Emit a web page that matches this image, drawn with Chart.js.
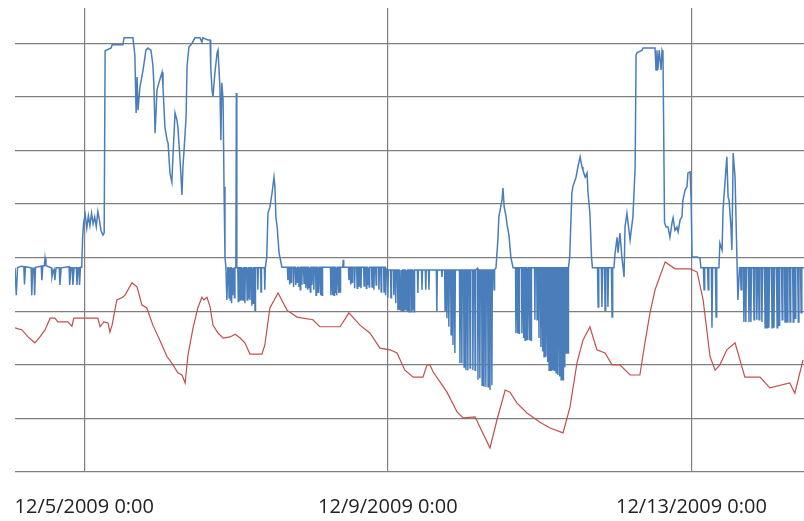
<!DOCTYPE html>
<html>
<head>
<meta charset="utf-8">
<script src="https://cdn.jsdelivr.net/npm/chart.js@4.4.1/dist/chart.umd.min.js"></script>
<style>
  html, body { margin: 0; padding: 0; background: #fff; }
  #wrap { width: 804px; height: 521px; }
</style>
</head>
<body>
<div id="wrap"><canvas id="chart"></canvas></div>
<script>
// hours after 12/5/2009 0:00, value (gridline step = 10 units)
const tickHours = [0, 96, 192];
const tickLabels = ['12/5/2009 0:00', '12/9/2009 0:00', '12/13/2009 0:00'];
const gridValues = [0, 10, 20, 30, 40, 50, 60, 70, 80];

const blueReadings = [
  [-21.9,38.1],[-21.5,33.0],[-21.1,38.1],[-20.0,38.4],[-19.1,38.3],[-18.9,35.0],[-18.6,38.3],[-16.8,38.1],[-16.6,33.0],[-16.3,38.0],
  [-15.9,38.0],[-15.7,33.0],[-15.4,38.2],[-13.6,38.4],[-13.4,35.8],[-13.1,38.5],[-12.6,38.5],[-12.4,39.9],[-12.1,38.5],[-10.4,38.1],
  [-10.2,36.4],[-9.8,37.5],[-9.5,37.8],[-9.3,35.8],[-8.9,38.1],[-7.9,38.1],[-7.7,34.9],[-7.3,38.1],[-4.8,38.3],[-4.6,34.9],
  [-4.2,38.1],[-3.8,38.1],[-3.6,34.9],[-3.2,38.1],[-2.5,38.1],[-2.3,34.9],[-2.0,38.1],[-1.7,38.1],[-1.5,34.9],[-1.2,38.2],[-0.8,38.2],
  [-0.5,43.8],[-0.2,46.5],[0.3,48.0],[0.8,45.5],[1.3,47.8],[1.8,46.0],[2.3,48.3],[2.8,46.3],[3.3,47.6],[3.8,45.8],
  [4.3,48.6],[4.8,47.0],[5.3,45.0],[5.9,44.2],[6.3,44.6],[6.6,78.6],[8.5,79.1],[8.8,79.7],[12.2,79.7],[12.6,81.0],[15.4,81.0],
  [16.0,77.8],[16.4,67.0],[16.7,73.7],[17.0,67.5],[17.6,71.8],[18.6,75.0],[19.5,78.7],[20.1,79.1],[21.1,78.7],[21.7,75.9],
  [22.0,72.6],[22.4,63.2],[23.0,71.3],[23.6,72.6],[24.6,74.6],[24.9,71.8],[25.5,64.4],[26.2,61.9],[26.5,61.4],[27.1,55.8],
  [27.7,54.1],[28.1,59.5],[28.7,67.0],[29.3,65.7],[29.6,64.4],[30.3,58.2],[30.9,51.7],[31.2,56.9],[31.5,59.5],[32.2,66.2],
  [32.5,75.6],[33.1,79.3],[34.1,80.0],[35.0,81.0],[36.6,81.0],[37.2,80.2],[37.5,81.0],[39.1,80.6],[39.8,80.6],[40.0,75.6],
  [40.4,71.3],[40.7,70.0],[41.3,74.4],[42.0,78.2],[42.3,78.7],[42.9,71.8],[43.2,61.9],[43.5,72.6],[43.9,69.4],[44.2,53.2],
  [44.5,40.1],[44.8,38.1],[45.1,32.1],[45.4,38.1],
  [45.65,38.1],[45.8,32.5],[45.95,38.1],[46.05,38.1],[46.2,32.1],[46.35,38.1],[46.45,38.1],[46.6,31.5],[46.75,38.1],
  [46.85,38.1],[47.0,33.0],[47.15,38.1],[47.35,38.1],[47.5,32.5],[47.65,38.1],[47.95,38.1],[48.1,70.7],[48.25,38.1],
  [48.55,38.1],[48.7,31.8],[48.85,38.1],[49.15,38.1],[49.3,32.1],[49.45,38.1],[49.65,38.1],[49.8,32.1],[49.95,38.1],
  [50.05,38.1],[50.2,32.1],[50.35,38.1],[50.65,38.1],[50.8,31.5],[50.95,38.1],[51.35,38.1],[51.5,32.1],[51.65,38.1],
  [51.75,38.1],[51.9,32.5],[52.05,38.1],[52.25,38.1],[52.4,32.1],[52.55,38.1],[52.85,38.1],[53.0,31.0],[53.15,38.1],
  [53.25,38.1],[53.4,31.5],[53.55,38.1],[53.85,38.1],[54.0,30.2],[54.15,38.1],[54.75,38.1],[54.9,34.0],[55.05,38.1],
  [55.75,38.1],[55.9,33.6],[56.05,38.1],[56.95,38.1],[57.1,34.0],[57.25,38.1],
  [57.7,40.1],[58.1,48.3],[58.7,49.4],[59.4,52.1],[60.0,55.0],[60.3,53.2],[60.6,47.6],[61.0,45.7],[61.6,40.9],[62.5,38.2],
  [64.25,38.2],[64.4,35.8],[64.55,38.2],[64.75,38.2],[64.9,35.0],[65.05,38.2],[65.25,38.2],[65.4,35.4],[65.55,38.2],
  [66.05,38.2],[66.2,34.5],[66.35,38.2],[66.75,38.2],[66.9,34.9],[67.05,38.2],[67.25,38.2],[67.4,35.4],[67.55,38.2],
  [67.75,38.2],[67.9,34.5],[68.05,38.2],[68.15,38.2],[68.3,34.0],[68.45,38.2],[68.65,38.2],[68.8,34.9],[68.95,38.2],
  [69.35,38.2],[69.5,35.2],[69.65,38.2],[69.95,38.2],[70.1,34.3],[70.25,38.2],[70.45,38.2],[70.6,34.0],[70.75,38.2],
  [70.85,38.2],[71.0,34.3],[71.15,38.2],[71.35,38.2],[71.5,33.6],[71.65,38.2],[71.85,38.2],[72.0,34.9],[72.15,38.2],
  [72.45,38.2],[72.6,34.0],[72.75,38.2],[73.15,38.2],[73.3,33.0],[73.45,38.2],[73.65,38.2],[73.8,33.4],[73.95,38.2],
  [74.05,38.2],[74.2,33.4],[74.35,38.2],[74.55,38.2],[74.7,33.0],[74.85,38.2],[75.05,38.2],[75.2,33.0],[75.35,38.2],
  [77.85,38.2],[78.0,33.0],[78.15,38.2],[78.35,38.2],[78.5,33.0],[78.65,38.2],[78.85,38.2],[79.0,33.0],[79.15,38.2],
  [79.35,38.2],[79.5,33.4],[79.65,38.2],[79.75,38.2],[79.9,33.0],[80.05,38.2],[80.25,38.2],[80.4,33.4],[80.55,38.2],
  [80.75,38.2],[80.9,33.6],[81.05,38.2],[81.75,38.2],[81.9,39.6],[82.05,38.2],[83.55,38.2],[83.7,35.8],[83.85,38.2],
  [84.05,38.2],[84.2,35.0],[84.35,38.2],[84.55,38.2],[84.7,35.4],[84.85,38.2],[85.35,38.2],[85.5,34.3],[85.65,38.2],
  [86.15,38.2],[86.3,34.3],[86.45,38.2],[86.75,38.2],[86.9,34.7],[87.05,38.2],[87.35,38.2],[87.5,34.3],[87.65,38.2],
  [88.35,38.2],[88.5,34.7],[88.65,38.2],[89.05,38.2],[89.2,34.3],[89.35,38.2],[89.45,38.2],[89.6,34.9],[89.75,38.2],
  [89.95,38.2],[90.1,34.5],[90.25,38.2],[90.85,38.2],[91.0,34.5],[91.15,38.2],[91.45,38.2],[91.6,34.0],[91.75,38.2],
  [92.15,38.2],[92.3,34.9],[92.45,38.2],[93.05,38.2],[93.2,34.0],[93.35,38.2],[93.75,38.2],[93.9,33.6],[94.05,38.2],
  [94.65,38.2],[94.8,33.6],[94.95,38.2],[95.15,38.2],[95.3,33.0],[95.45,37.9],[95.85,37.7],[96.0,32.5],[96.15,37.7],
  [96.85,37.7],[97.0,32.5],[97.15,37.7],[97.75,37.7],[97.9,33.0],[98.05,37.7],[98.35,37.7],[98.5,31.5],[98.65,37.7],
  [99.05,37.7],[99.2,30.2],[99.35,37.7],[99.55,37.7],[99.7,30.2],[99.85,37.7],[100.05,37.7],[100.2,30.2],[100.35,37.7],
  [100.45,37.7],[100.6,30.0],[100.75,37.7],[100.95,37.7],[101.1,29.9],[101.25,37.7],[101.45,37.7],[101.6,30.2],[101.75,37.7],
  [101.95,37.7],[102.1,30.2],[102.25,37.7],[102.55,37.7],[102.7,29.9],[102.85,37.7],[103.25,37.7],[103.4,29.9],[103.55,37.7],
  [103.75,37.7],[103.9,30.2],[104.05,37.7],[104.15,37.7],[104.3,29.9],[104.45,37.7],[105.35,37.7],[105.5,33.4],[105.65,37.7],
  [106.65,37.7],[106.8,34.0],[106.95,37.7],
  [107.85,37.7],[108.0,34.0],[108.15,37.7],[108.85,37.7],[109.0,34.0],[109.15,37.7],[111.35,37.7],[111.5,29.9],[111.65,37.7],
  [112.95,37.7],[113.1,36.4],[113.25,37.7],[113.95,37.7],[114.1,30.2],[114.25,37.7],[114.55,37.7],[114.7,28.7],[114.85,37.7],
  [115.15,37.7],[115.3,27.1],[115.45,37.7],[115.85,37.7],[116.0,25.6],[116.15,37.7],[116.45,37.7],[116.6,23.7],[116.75,37.7],
  [117.05,37.7],[117.2,22.2],[117.35,37.7],[118.65,37.7],[118.8,20.3],[118.95,37.7],[119.25,37.7],[119.4,20.3],[119.55,37.7],
  [119.95,37.7],[120.1,19.6],[120.25,37.7],[120.55,37.7],[120.7,19.0],[120.85,37.7],[121.15,37.7],[121.3,19.0],[121.45,37.7],
  [121.85,37.7],[122.0,19.4],[122.15,37.7],[122.75,37.7],[122.9,19.0],[123.05,37.7],[123.45,37.7],[123.6,19.0],[123.75,37.7],
  [124.35,38.0],[124.5,17.2],[124.65,37.7],[124.95,37.7],[125.1,17.5],[125.25,37.7],[125.65,37.7],[125.8,16.2],[125.95,37.7],
  [126.25,37.7],[126.4,15.9],[126.55,37.7],[126.85,37.7],[127.0,15.9],[127.15,37.7],[127.55,37.7],[127.7,15.9],[127.85,37.7],
  [128.15,37.7],[128.3,15.3],[128.45,37.7],[128.75,37.7],[128.9,16.2],[129.05,37.7],[129.45,37.7],[129.6,34.0],[129.75,37.7],
  [130.2,38.1],[130.8,43.3],[131.1,47.6],[132.1,50.7],[132.4,53.0],[132.8,49.4],[133.4,47.6],[133.7,46.1],[134.3,44.2],
  [134.9,40.1],[135.6,38.1],
  [136.38,38.1],[136.5,25.9],[136.62,38.1],[136.88,38.1],[137.0,25.9],[137.12,38.1],[137.38,38.1],[137.5,25.9],[137.62,38.1],
  [138.28,38.1],[138.4,25.9],[138.52,38.1],[138.78,38.1],[138.9,25.0],[139.02,38.1],[139.28,38.1],[139.4,24.6],[139.52,38.1],
  [139.78,38.1],[139.9,24.6],[140.02,38.1],[140.18,38.1],[140.3,24.6],[140.42,38.1],[140.68,38.1],[140.8,24.6],[140.92,38.1],
  [141.18,38.1],[141.3,24.6],[141.42,38.1],[142.38,38.1],[142.5,28.4],[142.62,38.1],[143.08,38.1],[143.2,28.4],[143.32,38.1],
  [143.68,38.1],[143.8,25.0],[143.92,38.1],[144.28,38.1],[144.4,23.3],[144.52,38.1],[144.78,38.1],[144.9,22.5],[145.02,38.1],
  [145.28,38.1],[145.4,21.5],[145.52,38.1],[145.88,38.1],[146.0,21.5],[146.12,38.1],[146.38,38.1],[146.5,20.5],[146.62,38.1],
  [146.88,38.1],[147.0,19.0],[147.12,38.1],[147.48,38.1],[147.6,19.0],[147.72,38.1],[147.98,38.1],[148.1,19.0],[148.22,38.1],
  [148.48,38.1],[148.6,19.0],[148.72,38.1],[149.08,38.1],[149.2,18.5],[149.32,38.1],[149.68,38.1],[149.8,18.1],[149.92,38.1],
  [150.18,38.1],[150.3,17.8],[150.42,38.1],[150.68,38.1],[150.8,17.2],[150.92,38.1],[151.28,38.1],[151.4,17.2],[151.52,38.1],
  [151.78,38.1],[151.9,19.5],[152.02,38.1],[152.28,38.1],[152.4,22.2],[152.52,38.1],[152.88,38.1],[153.0,22.2],[153.12,38.1],
  [153.5,40.1],[154.2,52.1],[154.5,53.2],[155.5,55.0],[156.1,56.9],[156.8,58.8],[157.4,56.9],[157.7,56.3],[158.4,55.0],
  [159.0,55.8],[159.3,52.1],[159.9,48.3],[160.4,40.1],[160.7,38.1],
  [162.3,38.1],[162.5,30.8],[162.7,38.1],[163.5,38.1],[163.7,30.8],[163.9,38.1],[164.5,38.1],[164.7,30.2],[164.9,38.1],
  [165.4,38.1],[165.6,30.8],[165.8,38.1],[166.7,38.1],[166.9,28.9],[167.1,38.1],
  [167.5,38.1],[167.8,40.5],[168.5,43.8],[168.8,40.9],[169.4,44.6],[170.0,40.1],[170.4,38.1],[170.7,36.4],[171.0,45.7],
  [171.6,48.3],[172.6,43.3],[173.5,47.6],[174.2,56.9],[174.5,77.8],[174.8,78.2],[176.4,78.7],[176.7,79.1],[180.5,79.1],
  [180.8,75.0],[181.1,78.7],[181.4,75.0],[181.8,78.7],[182.4,75.0],[182.7,78.7],[183.0,78.2],[183.5,46.5],
  [184.0,45.7],[184.6,45.7],[185.2,43.8],[185.9,46.6],[186.2,47.4],[186.8,45.1],[187.4,45.7],[187.8,44.8],[188.4,47.0],
  [189.0,47.6],[189.3,50.7],[190.0,52.6],[190.6,53.2],[190.9,55.8],[191.6,56.0],[191.9,50.7],[192.2,40.1],
  [193.8,40.1],[194.7,39.9],[195.0,38.1],[195.8,38.1],[196.0,34.0],[196.2,38.1],[197.1,38.1],[197.3,34.0],[197.5,38.1],
  [198.3,38.1],[198.5,26.9],[198.7,38.1],[199.6,38.1],[199.8,28.9],[200.0,38.1],[200.7,38.1],[201.0,42.7],[201.7,41.4],
  [202.0,48.9],[202.6,53.9],[203.2,58.8],[203.6,51.3],[203.9,50.7],[204.5,45.7],[204.8,41.4],[205.2,59.5],[205.8,55.0],
  [206.4,39.6],[206.7,32.1],[207.2,38.1],
  [207.5,38.1],[207.7,34.0],[207.9,38.1],[208.4,38.1],[208.6,28.0],[208.8,38.1],[209.0,38.1],[209.2,28.0],[209.4,38.1],
  [210.0,38.1],[210.2,28.0],[210.4,38.1],[210.6,38.1],[210.8,28.0],[211.0,38.1],[211.6,38.1],[211.8,28.4],[212.0,38.1],
  [212.5,38.1],[212.7,28.4],[212.9,38.1],[213.2,38.1],[213.4,28.4],[213.6,38.1],[214.1,38.1],[214.3,28.0],[214.5,38.1],
  [215.1,38.1],[215.3,26.9],[215.5,38.1],[215.7,38.1],[215.9,26.9],[216.1,38.1],[216.3,38.1],[216.5,26.9],[216.7,38.1],
  [217.3,38.1],[217.5,26.9],[217.7,38.1],[217.9,38.1],[218.1,26.9],[218.3,38.1],[218.9,38.1],[219.1,26.9],[219.3,38.1],
  [219.5,38.1],[219.7,27.4],[219.9,38.1],[220.5,38.1],[220.7,28.4],[220.9,38.1],[221.4,38.1],[221.6,28.0],[221.8,38.1],
  [222.1,38.1],[222.3,28.0],[222.5,38.1],[223.0,38.1],[223.2,28.0],[223.4,38.1],[224.0,38.1],[224.2,28.0],[224.4,38.1],
  [224.6,38.1],[224.8,28.7],[225.0,38.1],[225.6,38.1],[225.8,28.0],[226.0,38.1],[226.5,38.1],[226.7,29.7],[226.9,38.1],
  [227.6,38.1]
];

const redReadings = [
  [-21.9,26.9],[-19.7,26.5],[-17.8,25.2],[-15.6,24.1],[-14.0,25.2],[-12.4,26.5],[-10.8,28.7],[-9.3,28.7],[-8.3,28.0],[-5.2,28.0],
  [-3.9,27.2],[-3.3,28.7],[4.3,28.7],[5.0,27.1],[6.2,28.0],[7.5,27.8],[8.1,26.1],[8.8,27.4],[10.3,32.1],[11.9,32.5],
  [12.9,33.0],[15.1,35.3],[16.7,34.5],[18.2,31.2],[19.8,30.6],[21.7,27.4],[23.9,24.6],[26.2,21.5],[27.7,20.3],[29.6,18.5],
  [30.9,18.1],[31.9,16.6],[32.8,21.8],[34.4,26.9],[35.9,30.6],[37.2,32.6],[37.8,32.1],[38.8,32.6],[39.8,30.8],[40.7,27.4],
  [42.3,25.9],[43.9,25.0],[46.1,25.2],[47.7,25.7],[49.3,25.0],[50.8,24.1],[52.4,22.0],[56.2,22.0],[57.1,23.7],[58.7,30.6],
  [61.3,33.4],[64.1,30.2],[67.3,28.9],[72.3,28.4],[74.5,27.1],[80.9,27.1],[83.7,29.7],[87.2,27.4],[90.4,25.9],[93.5,23.1],
  [96.7,22.8],[98.9,22.2],[101.4,19.0],[104.0,17.7],[107.1,17.7],[108.4,20.0],[109.3,20.0],[110.3,18.7],[114.7,14.9],[117.9,11.2],
  [119.8,10.1],[123.6,10.3],[125.1,8.4],[128.3,4.5],[130.5,9.7],[133.1,15.3],[134.6,14.9],[136.8,12.9],[140.0,11.0],[144.1,9.3],
  [147.3,8.2],[151.4,7.3],[153.6,12.1],[155.8,20.3],[157.7,24.6],[159.9,27.1],[162.1,22.8],[164.7,22.2],[166.9,20.0],[169.4,20.0],
  [172.6,18.1],[175.7,18.1],[177.3,24.1],[178.9,29.7],[180.5,34.0],[183.7,39.2],[186.8,37.9],[191.6,37.9],[193.8,37.3],[195.7,32.1],
  [197.9,21.5],[199.5,19.0],[201.0,20.0],[203.2,22.8],[205.8,24.1],[208.9,17.7],[213.7,17.7],[216.8,15.7],[223.1,16.6],[224.7,14.7],
  [227.3,20.9]
];

const toPoints = rows => rows.map(([x, y]) => ({ x, y }));

new Chart(document.getElementById('chart'), {
    type: 'line',
    data: {
        datasets: [{
            label: 'Series 2',
            data: toPoints(redReadings),
            borderColor: '#c0504d',
            borderWidth: 1.2,
            pointRadius: 0,
            tension: 0
        }, {
            label: 'Series 1',
            data: toPoints(blueReadings),
            borderColor: '#4a7ebb',
            borderWidth: 1.5,
            pointRadius: 0,
            tension: 0
        }]
    },
    options: {
        responsive: true,
        maintainAspectRatio: false,
        animation: false,
        layout: { padding: { left: 15, right: 0, top: 8, bottom: 0 } },
        plugins: { legend: { display: false }, tooltip: { enabled: false } },
        scales: {
            x: {
                type: 'linear',
                min: -21.9,
                max: 227.6,
                afterBuildTicks: axis => { axis.ticks = tickHours.map(value => ({ value })); },
                // keep the plot area fixed, labels sit inside it anyway
                afterFit: axis => {
                    axis.height = 49;
                    axis.paddingLeft = 0;
                    axis.paddingRight = 0;
                },
                ticks: {
                    autoSkip: false,
                    maxRotation: 0,
                    padding: 23,
                    color: '#222',
                    font: { family: '"Open Sans", sans-serif', size: 20 },
                    callback: value => tickLabels[tickHours.indexOf(value)]
                },
                grid: { color: '#7f7f7f', lineWidth: 1.2, drawTicks: false },
                border: { display: false }
            },
            y: {
                min: 0,
                max: 86.57,
                afterBuildTicks: axis => { axis.ticks = gridValues.map(value => ({ value })); },
                afterFit: axis => { axis.width = 0; },
                ticks: { display: false },
                grid: { color: '#7f7f7f', lineWidth: 1.2, drawTicks: false },
                border: { display: false }
            }
        }
    }
});
</script>
</body>
</html>
